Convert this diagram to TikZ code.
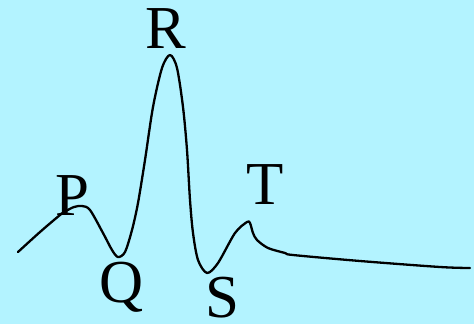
\documentclass[tikz,border=0pt]{standalone}
\usepackage{fontspec}
\setmainfont{Liberation Serif}
\definecolor{bgcyan}{RGB}{179,243,255}
\begin{document}
\begin{tikzpicture}[x=1pt,y=-1pt,
  wavelabel/.style={anchor=base,inner sep=0pt,font=\fontsize{61}{61}\selectfont},
  wave/.style={line width=2.3pt,line join=round,line cap=round}]
\fill[bgcyan] (0,0) rectangle (474,324);
\useasboundingbox (0,0) rectangle (474,324);
\draw[wave] plot[smooth,tension=0.5] coordinates {
 (18,252) (40,232) (60,215) (66,211) (74,207) (82,206) (90,210) (103,233)
 (112,250) (118,257) (125,252) (132,230) (138,203) (145,160) (153,107)
 (162,68) (170,55) (177,68) (183,107) (187,150) (190,200) (193,233)
 (198,260) (207,273) (218,263) (235,233) (247,222) (250,223) (253,233)
 (257,240) (268,248) (285,253) (293,255) (360,261) (440,267) (470,268)};
\node[wavelabel] (P) at (72,215) {P};
\node[wavelabel] (Q) at (122,302) {Q};
\node[wavelabel] (R) at (166,48) {R};
\node[wavelabel] (S) at (222,317) {S};
\node[wavelabel] (T) at (265,204) {T};
\end{tikzpicture}
\end{document}
